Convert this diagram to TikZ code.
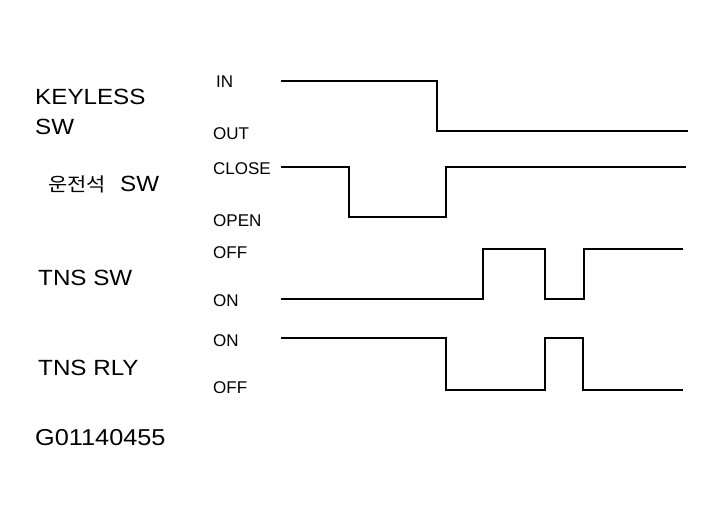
\documentclass[tikz,border=0pt]{standalone}
\usepackage{fontspec}
\setmainfont{Liberation Sans}
\newfontfamily\cjk{Noto Sans CJK KR}

\begin{document}
\begin{tikzpicture}[x=1pt, y=-1pt,
  signame/.style={anchor=base west, inner sep=0pt, xscale=1.1, font=\fontsize{22}{22}\selectfont},
  levelname/.style={anchor=base west, inner sep=0pt, font=\fontsize{17}{17}\selectfont},
  wave/.style={line width=1.9pt, line join=miter}]
  % Fix the page to the reference size
  \useasboundingbox (0,0) rectangle (726,516);

  % Signal names
  \node[signame] (keyless) at (35,105) {KEYLESS};
  \node[signame] (keylesssw) at (35,135) {SW};
  \node[signame] (doorsw) at (48,192) {{\cjk\fontsize{19}{19}\selectfont 운전석}\hspace{13pt}SW};
  \node[signame] (tnssw) at (38,285) {TNS SW};
  \node[signame] (tnsrly) at (38,375) {TNS RLY};
  \node[signame, font=\fontsize{23}{23}\selectfont] (figno) at (35,445) {G01140455};

  % Level names
  \node[levelname] (in) at (216,88) {IN};
  \node[levelname] (out) at (213,140) {OUT};
  \node[levelname] (close) at (213,175) {CLOSE};
  \node[levelname] (open) at (213,226) {OPEN};
  \node[levelname] (swoff) at (213,258) {OFF};
  \node[levelname] (swon) at (213,306) {ON};
  \node[levelname] (rlyon) at (213,346) {ON};
  \node[levelname] (rlyoff) at (213,393) {OFF};

  % Waveforms
  \draw[wave] (281,81) -- (437,81) -- (437,131) -- (688,131);
  \draw[wave] (281,167) -- (349,167) -- (349,217) -- (446,217) -- (446,167) -- (686,167);
  \draw[wave] (281,299) -- (483,299) -- (483,249) -- (545,249) -- (545,299) -- (584,299) -- (584,249) -- (683,249);
  \draw[wave] (281,338) -- (446,338) -- (446,390) -- (545,390) -- (545,338) -- (583,338) -- (583,390) -- (683,390);
\end{tikzpicture}
\end{document}
